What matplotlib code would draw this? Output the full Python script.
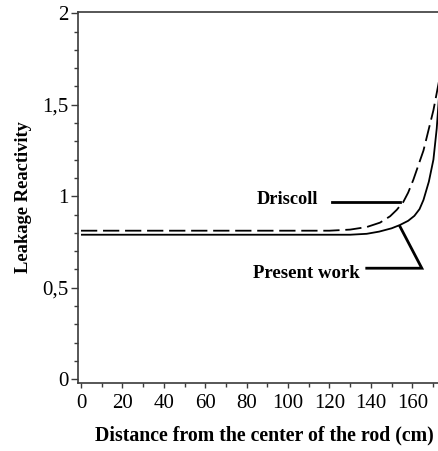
import matplotlib
matplotlib.use("Agg")
import matplotlib.pyplot as plt
from matplotlib.ticker import MultipleLocator, FuncFormatter

# Leakage reactivity vs. distance from the rod centre
present_x = [0, 60, 130, 138, 144, 150, 154, 158, 161, 163.5, 165.4, 168, 170.2, 171.8, 173]
present_y = [0.79, 0.79, 0.79, 0.795, 0.807, 0.825, 0.843, 0.866, 0.893, 0.93, 0.98, 1.08, 1.20, 1.37, 1.56]

driscoll_x = [0, 60, 120, 130, 138, 144.4, 149.3, 152.5, 155.7, 158, 160.5, 165.4, 170.2, 173]
driscoll_y = [0.812, 0.812, 0.812, 0.818, 0.832, 0.856, 0.891, 0.926, 0.97, 1.02, 1.09, 1.25, 1.47, 1.635]

x_ticks = [0, 20, 40, 60, 80, 100, 120, 140, 160]
y_ticks = [0, 0.5, 1, 1.5, 2]

W, H = 439, 451
fig = plt.figure(figsize=(W / 100, H / 100), dpi=100)
ax = fig.add_axes([78 / W, (H - 382.5) / H, (W - 78) / W, (382.5 - 12) / H])

serif = "Liberation Serif"
spine_col = "#3a3a3a"

ax.plot(present_x, present_y, color="black", lw=1.3, solid_capstyle="butt")
ax.plot(driscoll_x, driscoll_y, color="black", lw=1.3, dashes=(9, 3.2))

ax.set_xlim(-1.45, 172.9)
ax.set_ylim(-0.0175, 2.007)

ax.xaxis.set_major_locator(plt.FixedLocator(x_ticks))
ax.xaxis.set_minor_locator(MultipleLocator(10))
ax.yaxis.set_major_locator(plt.FixedLocator(y_ticks))
ax.yaxis.set_minor_locator(MultipleLocator(0.1))

def comma_fmt(v, pos):
    s = f"{v:g}"
    return s.replace(".", ",")

ax.yaxis.set_major_formatter(FuncFormatter(comma_fmt))

ax.tick_params(axis="both", which="both", direction="out", color=spine_col, width=1.0)
ax.tick_params(axis="y", which="major", length=5, pad=2)
ax.tick_params(axis="y", which="minor", length=3)
ax.tick_params(axis="x", which="major", length=3.5, pad=5)
ax.tick_params(axis="x", which="minor", length=3)

for lbl in ax.get_xticklabels() + ax.get_yticklabels():
    lbl.set_fontfamily(serif)
    lbl.set_fontsize(15)

for side in ["left", "bottom", "top"]:
    ax.spines[side].set_color(spine_col)
    ax.spines[side].set_linewidth(1.2)
ax.spines["right"].set_visible(False)

ax.set_xlabel("Distance from the center of the rod (cm)", fontfamily=serif,
              fontweight="bold", fontsize=14.3, va="center")
ax.xaxis.set_label_coords(0.515, -0.1417)
ax.set_ylabel("Leakage Reactivity", fontfamily=serif, fontweight="bold",
              fontsize=13.3, va="center")
ax.yaxis.set_label_coords(-0.152, 0.5)

# curve labels with leader lines
ax.text(114.6, 0.958, "Driscoll", fontfamily=serif, fontweight="bold",
        fontsize=13.2, ha="right", va="baseline")
ax.plot([121.3, 154.1], [0.970, 0.970], color="black", lw=2.0)

ax.text(134.5, 0.552, "Present work", fontfamily=serif, fontweight="bold",
        fontsize=13.5, ha="right", va="baseline")
ax.plot([138.0, 164.6, 154.1], [0.607, 0.607, 0.834], color="black", lw=2.0,
        solid_joinstyle="miter")

fig.savefig("out.png", dpi=100)
